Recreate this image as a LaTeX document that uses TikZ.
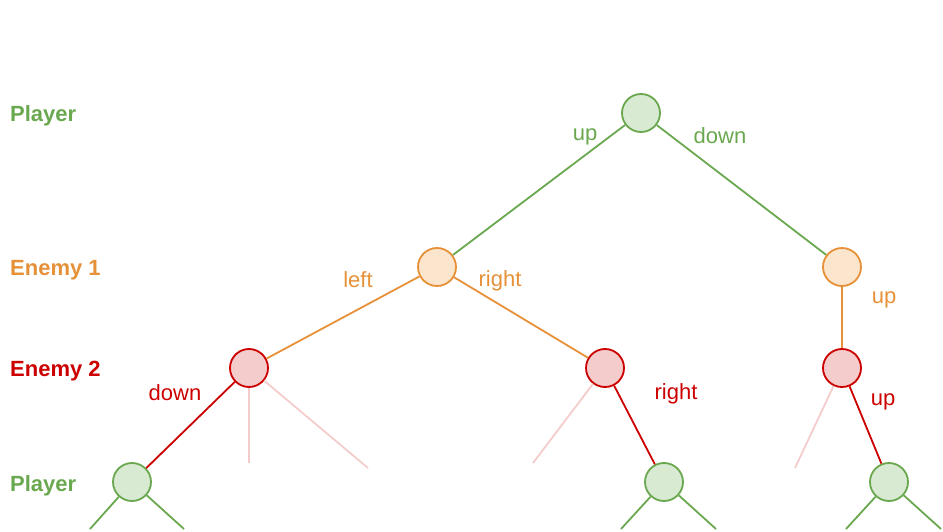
\documentclass[tikz,border=0pt]{standalone}
\usepackage{fontspec}
\setmainfont{Liberation Sans}
\begin{document}
\definecolor{pgreen}{HTML}{6AA84F}
\definecolor{pgreenfill}{HTML}{D9EAD3}
\definecolor{porange}{HTML}{E69138}
\definecolor{porangefill}{HTML}{FCE5CD}
\definecolor{pred}{HTML}{CC0000}
\definecolor{predfill}{HTML}{F4CCCC}
\definecolor{pfaint}{HTML}{F4CCCC}
\begin{tikzpicture}[x=1pt,y=-1pt,
  state/.style={circle,minimum size=38pt,inner sep=0pt,line width=1.8pt},
  player/.style={state,draw=pgreen,fill=pgreenfill},
  enemyone/.style={state,draw=porange,fill=porangefill},
  enemytwo/.style={state,draw=pred,fill=predfill},
  rowlabel/.style={anchor=west,font=\fontsize{22}{26}\selectfont\bfseries,inner sep=0pt},
  movelabel/.style={font=\fontsize{22}{26}\selectfont,inner sep=0pt},
  greenedge/.style={draw=pgreen,line width=1.8pt},
  orangeedge/.style={draw=porange,line width=1.8pt},
  rededge/.style={draw=pred,line width=1.8pt},
  faintedge/.style={draw=pfaint,line width=1.8pt}]
\useasboundingbox (0,0) rectangle (943,532);
\clip (0,0) rectangle (943,532);

% row captions
\node[rowlabel,text=pgreen] (cap1) at (10,116) {Player};
\node[rowlabel,text=porange] (cap2) at (10,270) {Enemy 1};
\node[rowlabel,text=pred] (cap3) at (10,371) {Enemy 2};
\node[rowlabel,text=pgreen] (cap4) at (10,486) {Player};

% loose ends of pruned and continuing branches
\coordinate (fa1) at (249,463);
\coordinate (fa2) at (368,468);
\coordinate (fb1) at (533,463);
\coordinate (fc1) at (795,468);
\coordinate (la1) at (90,529);
\coordinate (la2) at (184,529);
\coordinate (lb1) at (621,529);
\coordinate (lb2) at (716,529);
\coordinate (lc1) at (846,529);
\coordinate (lc2) at (941,529);

% states
\node[player] (root) at (641,113) {};
\node[enemyone] (e1l) at (437,267) {};
\node[enemyone] (e1r) at (842,267) {};
\node[enemytwo] (e2a) at (249,368) {};
\node[enemytwo] (e2b) at (605,368) {};
\node[enemytwo] (e2c) at (842,368) {};
\node[player] (pa) at (132,482) {};
\node[player] (pb) at (664,482) {};
\node[player] (pc) at (889,482) {};

% branches
\path[greenedge] (root) -- (e1l);
\path[greenedge] (root) -- (e1r);
\path[orangeedge] (e1l) -- (e2a);
\path[orangeedge] (e1l) -- (e2b);
\path[orangeedge] (e1r) -- (e2c);
\path[rededge] (e2a) -- (pa);
\path[faintedge] (e2a) -- (fa1);
\path[faintedge] (e2a) -- (fa2);
\path[faintedge] (e2b) -- (fb1);
\path[rededge] (e2b) -- (pb);
\path[faintedge] (e2c) -- (fc1);
\path[rededge] (e2c) -- (pc);
\path[greenedge] (pa) -- (la1);
\path[greenedge] (pa) -- (la2);
\path[greenedge] (pb) -- (lb1);
\path[greenedge] (pb) -- (lb2);
\path[greenedge] (pc) -- (lc1);
\path[greenedge] (pc) -- (lc2);

% move labels
\node[movelabel,text=pgreen] (mup) at (585,137) {up};
\node[movelabel,text=pgreen] (mdown) at (720,136) {down};
\node[movelabel,text=porange] (mleft) at (358,280) {left};
\node[movelabel,text=porange] (mright) at (500,281) {right};
\node[movelabel,text=porange] (mup2) at (884,300) {up};
\node[movelabel,text=pred] (mdown2) at (175,393) {down};
\node[movelabel,text=pred] (mright2) at (676,394) {right};
\node[movelabel,text=pred] (mup3) at (883,402) {up};
\end{tikzpicture}
\end{document}
